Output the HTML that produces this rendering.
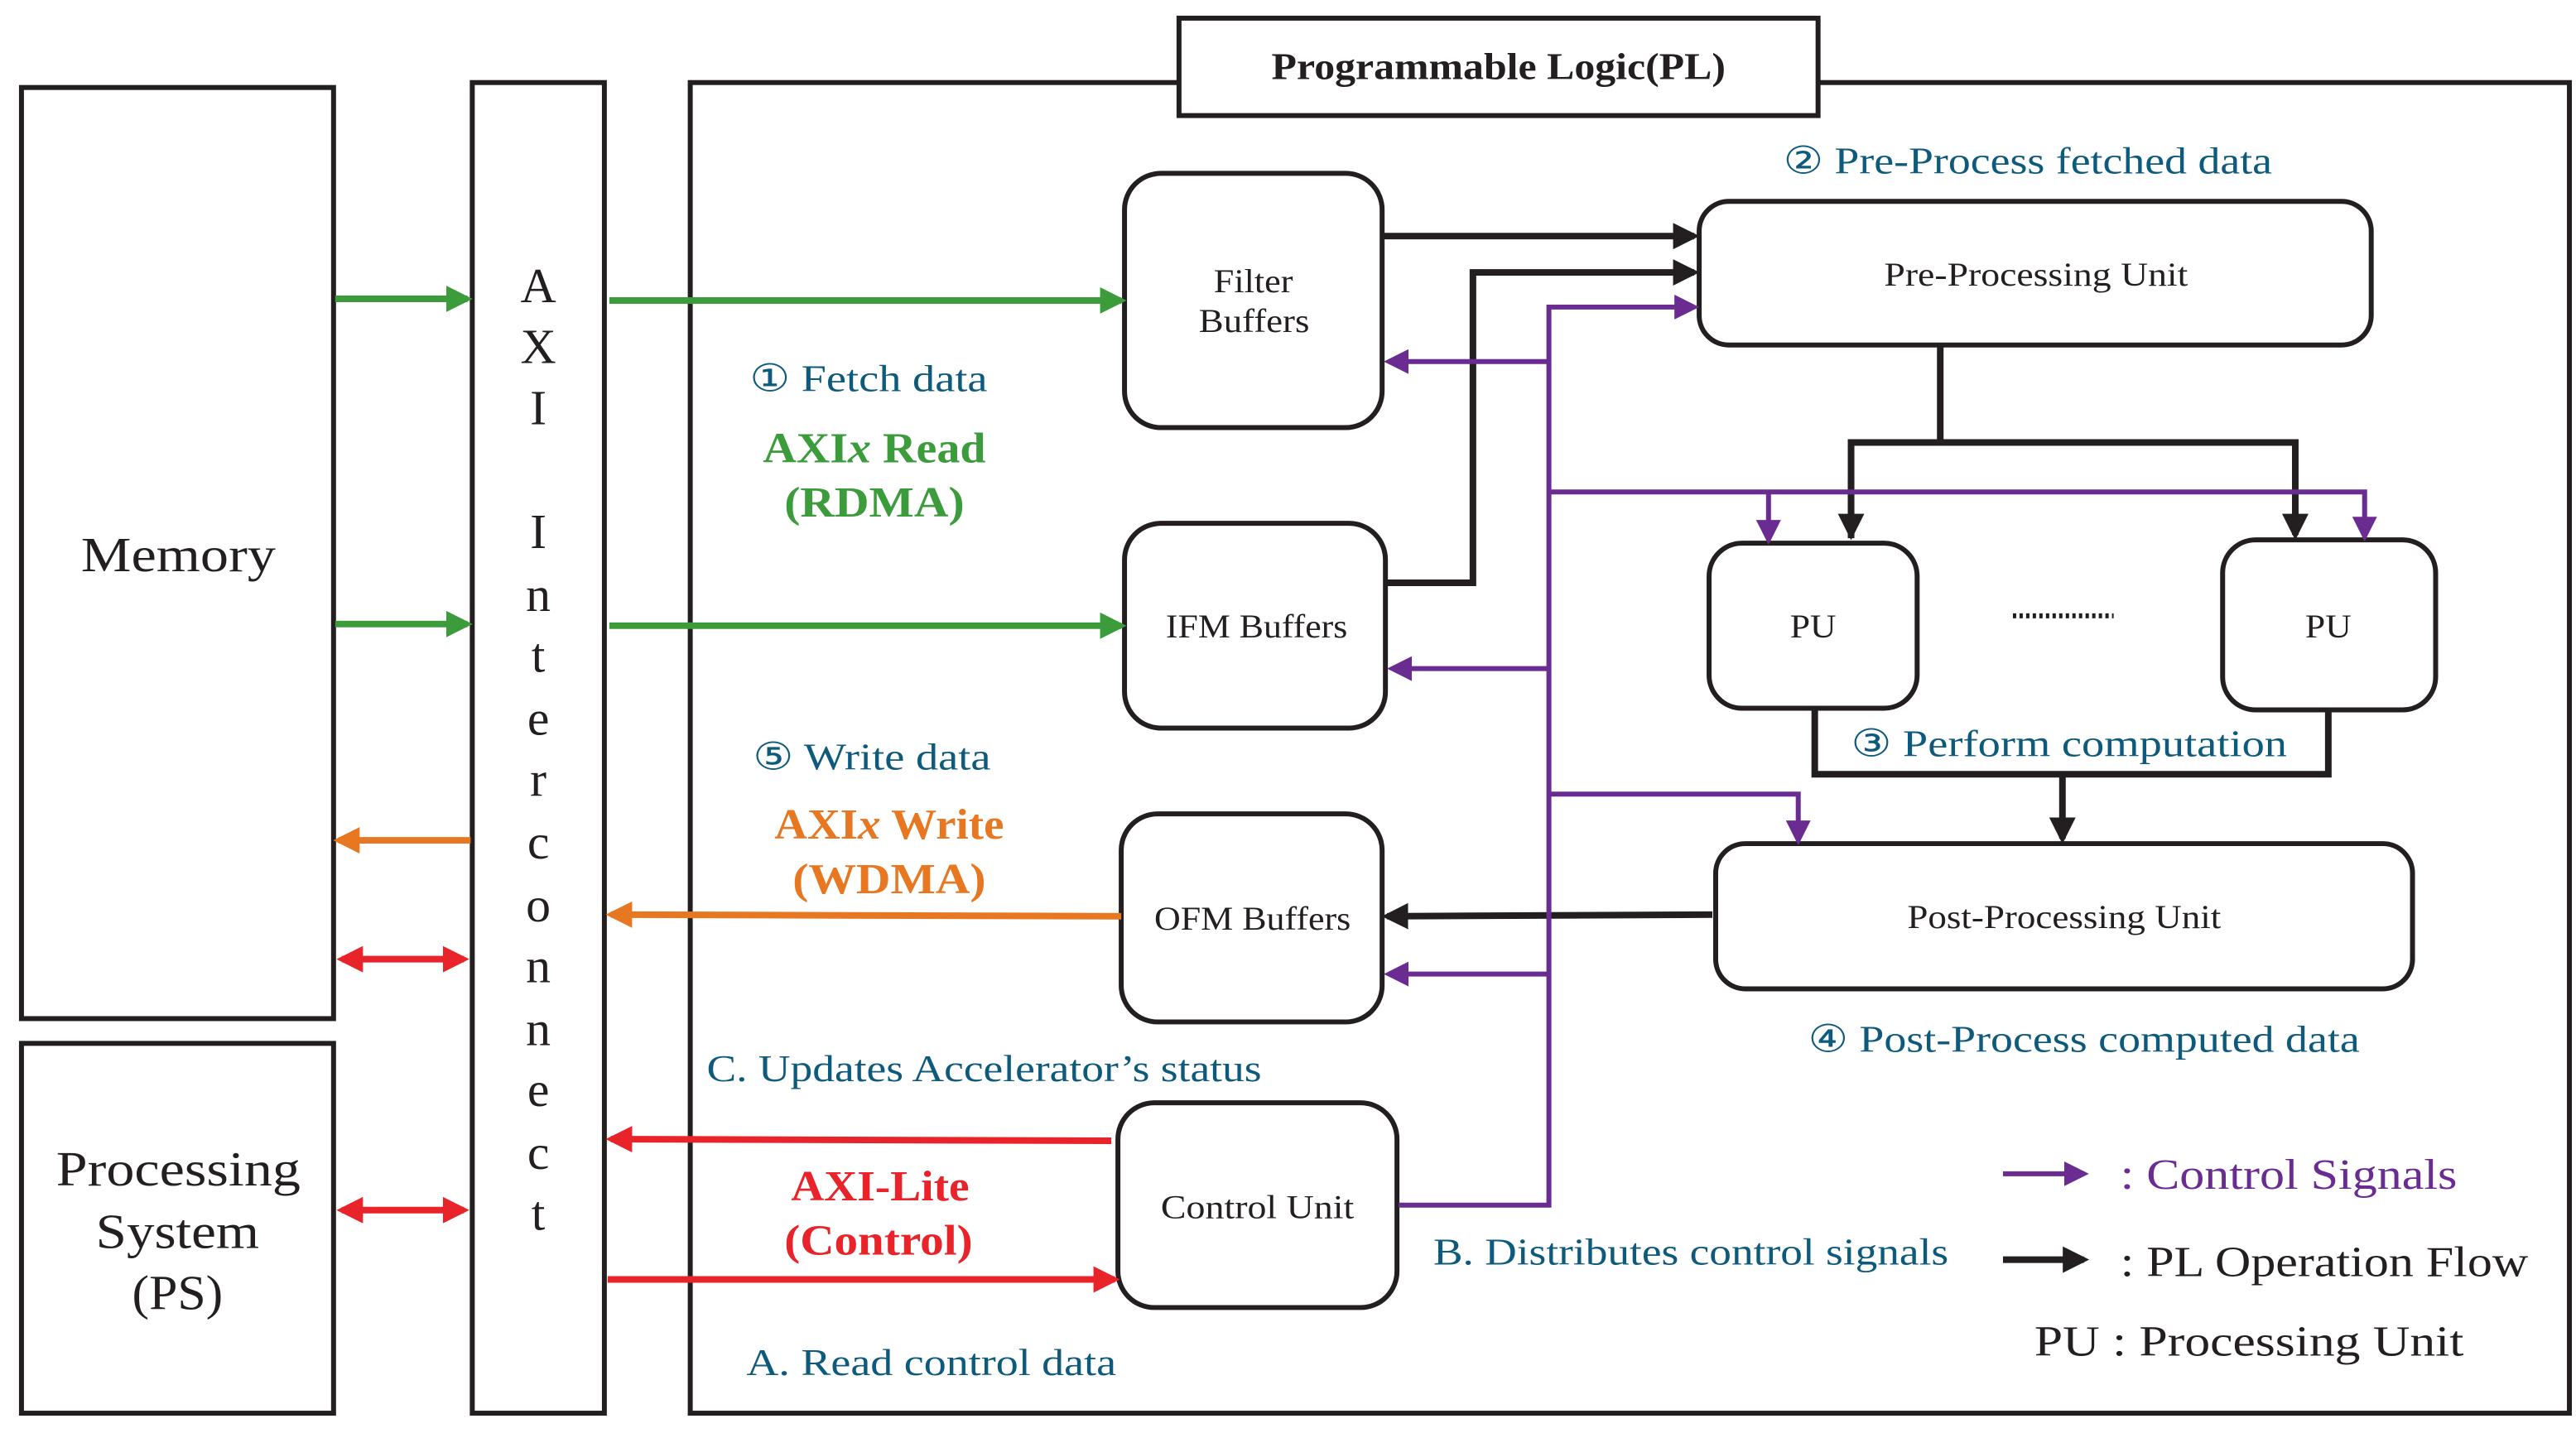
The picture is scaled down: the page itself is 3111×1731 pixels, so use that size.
<!DOCTYPE html>
<html><head><meta charset="utf-8"><style>html,body{margin:0;padding:0;background:#fff}svg{display:block}</style></head><body>
<svg width="3111" height="1731" viewBox="0 0 1560 868" xmlns="http://www.w3.org/2000/svg" font-family="'Liberation Serif', serif">
<defs>
<marker id="k" markerWidth="4" markerHeight="4" refX="3.2" refY="2" orient="auto" markerUnits="strokeWidth"><path d="M0,0 L4,2 L0,4 z" fill="#231f20"/></marker>
<marker id="p" markerWidth="5" markerHeight="5" refX="4" refY="2.5" orient="auto" markerUnits="strokeWidth"><path d="M0,0 L5,2.5 L0,5 z" fill="#6a2c91"/></marker>
<marker id="g" markerWidth="4" markerHeight="4" refX="3.2" refY="2" orient="auto" markerUnits="strokeWidth"><path d="M0,0 L4,2 L0,4 z" fill="#3c9c3c"/></marker>
<marker id="o" markerWidth="4" markerHeight="4" refX="3.2" refY="2" orient="auto" markerUnits="strokeWidth"><path d="M0,0 L4,2 L0,4 z" fill="#e87722"/></marker>
<marker id="r" markerWidth="4" markerHeight="4" refX="3.2" refY="2" orient="auto" markerUnits="strokeWidth"><path d="M0,0 L4,2 L0,4 z" fill="#e8232a"/></marker>
<marker id="rs" markerWidth="4" markerHeight="4" refX="0.8" refY="2" orient="auto" markerUnits="strokeWidth"><path d="M4,0 L0,2 L4,4 z" fill="#e8232a"/></marker>
</defs>
<g fill="none" stroke="#231f20" stroke-width="3">
<rect x="13" y="53" width="189" height="564"/>
<rect x="13" y="632" width="189" height="224"/>
<rect x="286" y="50" width="80" height="806"/>
<rect x="418" y="50" width="1138" height="806"/>
<rect x="714" y="11" width="387" height="59" fill="#fff"/>
<rect x="681" y="105" width="156" height="154" rx="22"/>
<rect x="681" y="317" width="158" height="124" rx="22"/>
<rect x="679" y="493" width="158" height="126" rx="22"/>
<rect x="677" y="668" width="169" height="124" rx="22"/>
<rect x="1029" y="122" width="407" height="87" rx="18"/>
<rect x="1035" y="329" width="126" height="100" rx="20"/>
<rect x="1346" y="327" width="129" height="103" rx="20"/>
<rect x="1039" y="511" width="422" height="88" rx="18"/>
</g>
<g font-size="22" fill="#231f20" lengthAdjust="spacingAndGlyphs">
<text x="770" y="48" font-weight="bold" font-size="23" textLength="275" lengthAdjust="spacingAndGlyphs">Programmable Logic(PL)</text>
<text x="49" y="346" font-size="30" textLength="118" lengthAdjust="spacingAndGlyphs">Memory</text>
<text x="34" y="718" font-size="30" textLength="148" lengthAdjust="spacingAndGlyphs">Processing</text>
<text x="58" y="756" font-size="30" textLength="99" lengthAdjust="spacingAndGlyphs">System</text>
<text x="80" y="793" font-size="30" textLength="55" lengthAdjust="spacingAndGlyphs">(PS)</text>
<g font-size="30" text-anchor="middle"><text x="326" y="183">A</text><text x="326" y="220">X</text><text x="326" y="257">I</text><text x="326" y="332">I</text><text x="326" y="370">n</text><text x="326" y="407">t</text><text x="326" y="445">e</text><text x="326" y="482">r</text><text x="326" y="520">c</text><text x="326" y="558">o</text><text x="326" y="595">n</text><text x="326" y="633">n</text><text x="326" y="670">e</text><text x="326" y="708">c</text><text x="326" y="745">t</text></g>
<g font-size="20">
<text x="735" y="177" textLength="48" lengthAdjust="spacingAndGlyphs">Filter</text>
<text x="726" y="201" textLength="67" lengthAdjust="spacingAndGlyphs">Buffers</text>
<text x="706" y="386" textLength="110" lengthAdjust="spacingAndGlyphs">IFM Buffers</text>
<text x="699" y="563" textLength="119" lengthAdjust="spacingAndGlyphs">OFM Buffers</text>
<text x="703" y="738" textLength="117" lengthAdjust="spacingAndGlyphs">Control Unit</text>
<text x="1141" y="173" textLength="184" lengthAdjust="spacingAndGlyphs">Pre-Processing Unit</text>
<text x="1084" y="386" textLength="28" lengthAdjust="spacingAndGlyphs">PU</text>
<text x="1396" y="386" textLength="28" lengthAdjust="spacingAndGlyphs">PU</text>
<text x="1155" y="562" textLength="190" lengthAdjust="spacingAndGlyphs">Post-Processing Unit</text></g>
</g>
<line x1="1219" y1="373" x2="1280" y2="373" stroke="#231f20" stroke-width="3" stroke-dasharray="2,2"/>
<g font-size="23" fill="#0e5a7c">
<text x="1080" y="105" textLength="296" lengthAdjust="spacingAndGlyphs">② Pre-Process fetched data</text>
<text x="454" y="237" textLength="144" lengthAdjust="spacingAndGlyphs">① Fetch data</text>
<text x="456" y="466" textLength="144" lengthAdjust="spacingAndGlyphs">⑤ Write data</text>
<text x="1121" y="458" textLength="264" lengthAdjust="spacingAndGlyphs">③ Perform computation</text>
<text x="1095" y="637" textLength="334" lengthAdjust="spacingAndGlyphs">④ Post-Process computed data</text>
<text x="428" y="655" textLength="336" lengthAdjust="spacingAndGlyphs">C. Updates Accelerator’s status</text>
<text x="868" y="766" textLength="312" lengthAdjust="spacingAndGlyphs">B. Distributes control signals</text>
<text x="452" y="833" textLength="224" lengthAdjust="spacingAndGlyphs">A. Read control data</text>
</g>
<g font-size="26" font-weight="bold">
<text x="462" y="280" fill="#3c9c3c" textLength="135" lengthAdjust="spacingAndGlyphs">AXI<tspan font-style="italic">x</tspan> Read</text>
<text x="475" y="313" fill="#3c9c3c" textLength="109" lengthAdjust="spacingAndGlyphs">(RDMA)</text>
<text x="469" y="508" fill="#e87722" textLength="139" lengthAdjust="spacingAndGlyphs">AXI<tspan font-style="italic">x</tspan> Write</text>
<text x="480" y="541" fill="#e87722" textLength="117" lengthAdjust="spacingAndGlyphs">(WDMA)</text>
<text x="479" y="727" fill="#e8232a" textLength="108" lengthAdjust="spacingAndGlyphs">AXI-Lite</text>
<text x="475" y="760" fill="#e8232a" textLength="114" lengthAdjust="spacingAndGlyphs">(Control)</text>
</g>
<g fill="none" stroke-width="4">
<line x1="203" y1="181" x2="283" y2="181" stroke="#3c9c3c" marker-end="url(#g)"/>
<line x1="203" y1="378" x2="283" y2="378" stroke="#3c9c3c" marker-end="url(#g)"/>
<line x1="369" y1="182" x2="679" y2="182" stroke="#3c9c3c" marker-end="url(#g)"/>
<line x1="369" y1="379" x2="679" y2="379" stroke="#3c9c3c" marker-end="url(#g)"/>
<line x1="285" y1="509" x2="205" y2="509" stroke="#e87722" marker-end="url(#o)"/>
<line x1="679" y1="555" x2="370" y2="554" stroke="#e87722" marker-end="url(#o)"/>
<line x1="207" y1="581" x2="281" y2="581" stroke="#e8232a" marker-start="url(#rs)" marker-end="url(#r)"/>
<line x1="207" y1="733" x2="281" y2="733" stroke="#e8232a" marker-start="url(#rs)" marker-end="url(#r)"/>
<line x1="673" y1="691" x2="370" y2="690" stroke="#e8232a" marker-end="url(#r)"/>
<line x1="368" y1="775" x2="675" y2="775" stroke="#e8232a" marker-end="url(#r)"/>
</g>
<g fill="none" stroke="#231f20" stroke-width="4">
<line x1="838" y1="143" x2="1026" y2="143" marker-end="url(#k)"/>
<polyline points="840,353 892,353 892,165 1026,165" marker-end="url(#k)"/>
<polyline points="1175,210 1175,268"/>
<polyline points="1121,326 1121,268 1390,268 1390,324" marker-end="url(#k)"/>
<line x1="1121" y1="290" x2="1121" y2="324" marker-end="url(#k)"/>
<polyline points="1099,430 1099,469 1410,469 1410,431"/>
<line x1="1249" y1="469" x2="1249" y2="508" marker-end="url(#k)"/>
<line x1="1037" y1="554" x2="840" y2="555" marker-end="url(#k)"/>
<line x1="1213" y1="763" x2="1262" y2="763" marker-end="url(#k)"/>
</g>
<g fill="none" stroke="#6a2c91" stroke-width="3">
<polyline points="847,730 938,730 938,186 1026,186" marker-end="url(#p)"/>
<line x1="938" y1="219" x2="841" y2="219" marker-end="url(#p)"/>
<line x1="938" y1="405" x2="843" y2="405" marker-end="url(#p)"/>
<line x1="938" y1="590" x2="841" y2="590" marker-end="url(#p)"/>
<polyline points="938,298 1432,298 1432,325" marker-end="url(#p)"/>
<line x1="1071" y1="298" x2="1071" y2="327" marker-end="url(#p)"/>
<polyline points="938,481 1089,481 1089,509" marker-end="url(#p)"/>
<line x1="1213" y1="711" x2="1262" y2="711" marker-end="url(#p)"/>
</g>
<g font-size="26">
<text x="1284" y="720" fill="#6a2c91" textLength="204" lengthAdjust="spacingAndGlyphs">: Control Signals</text>
<text x="1284" y="773" fill="#231f20" textLength="247" lengthAdjust="spacingAndGlyphs">: PL Operation Flow</text>
<text x="1232" y="821" fill="#231f20" textLength="260" lengthAdjust="spacingAndGlyphs">PU  : Processing Unit</text>
</g>
</svg>
</body></html>
